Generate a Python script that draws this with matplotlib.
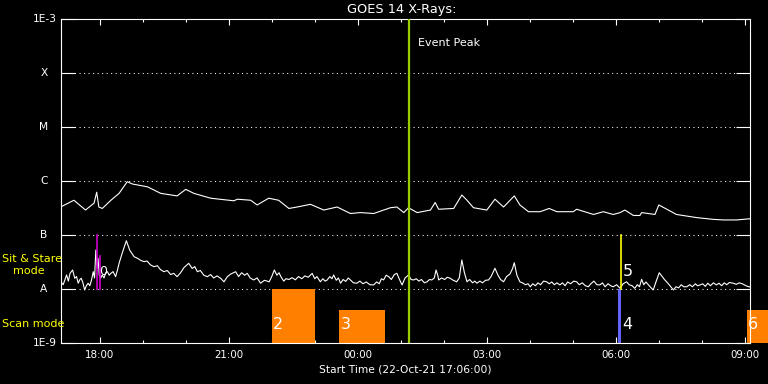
import matplotlib
matplotlib.use("Agg")
import matplotlib.pyplot as plt
import matplotlib.transforms as mtransforms
from matplotlib.ticker import FixedLocator, NullLocator, NullFormatter

# ---------------- data (hours since 22-Oct-21 00:00, flux W/m^2) -------------
long_t = [17.09, 17.40, 17.67, 17.87, 17.93, 17.98, 18.06, 18.26, 18.45, 18.64,
          18.76, 19.11, 19.42, 19.80, 20.00, 20.19, 20.58, 21.12, 21.20, 21.51,
          21.66, 21.93, 22.16, 22.40, 22.59, 22.90, 23.21, 23.52, 23.83, 24.06,
          24.37, 24.76, 24.91, 25.07, 25.18, 25.38, 25.69, 25.80, 25.88, 26.23,
          26.42, 26.54, 26.69, 27.00, 27.19, 27.39, 27.64, 27.77, 27.97, 28.24,
          28.45, 28.63, 29.01, 29.09, 29.48, 29.71, 29.94, 30.10, 30.21, 30.41,
          30.56, 30.60, 30.91, 31.00, 31.22, 31.41, 31.88, 32.26, 32.50, 32.81,
          33.12]
long_flux = [3.3e-7, 4.4e-7, 2.9e-7, 3.9e-7, 6.2e-7, 3.3e-7, 3.1e-7, 4.4e-7, 5.9e-7, 9.7e-7,
             8.8e-7, 7.8e-7, 5.9e-7, 5.3e-7, 7.0e-7, 5.9e-7, 4.8e-7, 4.3e-7, 4.6e-7, 4.4e-7,
             3.6e-7, 4.8e-7, 4.4e-7, 3.1e-7, 3.3e-7, 3.7e-7, 2.9e-7, 3.3e-7, 2.5e-7, 2.6e-7,
             2.5e-7, 3.2e-7, 3.3e-7, 2.6e-7, 3.2e-7, 2.6e-7, 2.9e-7, 4.0e-7, 3.0e-7, 3.1e-7,
             5.5e-7, 4.4e-7, 3.2e-7, 2.9e-7, 4.6e-7, 3.3e-7, 5.3e-7, 3.6e-7, 2.7e-7, 2.7e-7,
             3.1e-7, 2.7e-7, 2.7e-7, 3.0e-7, 2.4e-7, 2.7e-7, 2.4e-7, 2.6e-7, 2.9e-7, 2.3e-7,
             2.3e-7, 2.6e-7, 2.4e-7, 3.6e-7, 2.9e-7, 2.4e-7, 2.1e-7, 1.95e-7, 1.9e-7, 1.9e-7,
             2.0e-7]

short_t = [17.10, 17.15, 17.19, 17.23, 17.27, 17.31, 17.37, 17.42, 17.46, 17.50,
           17.54, 17.57, 17.61, 17.65, 17.69, 17.73, 17.77, 17.81, 17.85, 17.88,
           17.91, 17.94, 17.96, 17.99, 18.02, 18.06, 18.10, 18.14, 18.18, 18.22,
           18.26, 18.31, 18.37, 18.41, 18.45, 18.53, 18.62, 18.70, 18.80, 18.88,
           18.95, 19.03, 19.10, 19.18, 19.26, 19.34, 19.41, 19.49, 19.57, 19.65,
           19.72, 19.80, 19.88, 19.96, 20.07, 20.15, 20.21, 20.27, 20.34, 20.42,
           20.50, 20.58, 20.65, 20.73, 20.81, 20.89, 20.97, 21.05, 21.16, 21.23,
           21.30, 21.37, 21.43, 21.50, 21.58, 21.66, 21.74, 21.83, 21.94, 22.00,
           22.06, 22.12, 22.17, 22.22, 22.28, 22.33, 22.40, 22.47, 22.55, 22.62,
           22.70, 22.77, 22.85, 22.94, 23.00, 23.05, 23.13, 23.19, 23.24, 23.29,
           23.35, 23.40, 23.44, 23.50, 23.55, 23.60, 23.66, 23.72, 23.78, 23.83,
           23.90, 23.98, 24.05, 24.12, 24.20, 24.28, 24.37, 24.44, 24.50, 24.55,
           24.60, 24.66, 24.72, 24.78, 24.85, 24.91, 24.97, 25.03, 25.10, 25.18,
           25.24, 25.30, 25.36, 25.42, 25.48, 25.55, 25.61, 25.67, 25.72, 25.78,
           25.82, 25.86, 25.88, 25.95, 26.02, 26.08, 26.15, 26.22, 26.30, 26.36,
           26.42, 26.48, 26.54, 26.60, 26.67, 26.72, 26.77, 26.84, 26.90, 26.97,
           27.04, 27.10, 27.19, 27.26, 27.32, 27.39, 27.46, 27.54, 27.60, 27.64,
           27.70, 27.77, 27.83, 27.90, 27.96, 28.01, 28.07, 28.13, 28.19, 28.25,
           28.32, 28.39, 28.45, 28.51, 28.57, 28.63, 28.70, 28.76, 28.82, 28.88,
           28.95, 29.02, 29.09, 29.15, 29.22, 29.29, 29.36, 29.42, 29.49, 29.56,
           29.63, 29.69, 29.75, 29.82, 29.88, 29.94, 30.02, 30.10, 30.17, 30.25,
           30.31, 30.38, 30.44, 30.50, 30.55, 30.60, 30.65, 30.70, 30.76, 30.82,
           30.87, 30.94, 31.01, 31.08, 31.13, 31.18, 31.24, 31.30, 31.34, 31.40,
           31.46, 31.52, 31.58, 31.65, 31.72, 31.78, 31.85, 31.90, 31.96, 32.02,
           32.08, 32.14, 32.20, 32.27, 32.34, 32.40, 32.46, 32.52, 32.58, 32.64,
           32.73, 32.80, 32.87, 32.94, 33.00, 33.06, 33.12]
# values in units of 1e-8 W/m^2
short_flux_e8 = [1.36, 1.20, 1.47, 1.82, 1.40, 1.95, 2.25, 1.58, 1.70, 1.28,
                 1.50, 1.58, 1.30, 0.96, 1.15, 1.28, 1.15, 1.47, 2.09, 1.60,
                 5.27, 2.40, 3.71, 1.80, 1.58, 1.82, 1.60, 2.00, 2.09, 1.80,
                 1.95, 2.10, 1.69, 2.20, 2.99, 4.80, 7.83, 5.20, 3.96, 3.70,
                 3.40, 3.21, 3.30, 2.80, 2.59, 2.70, 2.30, 2.09, 2.20, 1.85,
                 1.95, 1.69, 2.00, 2.50, 2.99, 2.40, 2.60, 2.09, 2.20, 1.80,
                 1.69, 1.85, 1.60, 1.75, 1.58, 1.36, 1.70, 1.90, 2.09, 1.70,
                 2.00, 1.80, 1.95, 1.60, 1.47, 1.60, 1.28, 1.45, 1.36, 1.70,
                 2.25, 1.80, 2.00, 1.65, 1.40, 1.55, 1.50, 1.62, 1.48, 1.70,
                 1.55, 1.75, 1.65, 1.95, 1.55, 1.70, 1.36, 1.55, 1.40, 1.47,
                 1.70, 1.55, 1.82, 1.45, 1.60, 1.28, 1.50, 1.38, 1.60, 1.47,
                 1.30, 1.28, 1.40, 1.25, 1.35, 1.20, 1.19, 1.35, 1.25, 1.55,
                 1.47, 1.80, 1.69, 1.50, 1.85, 1.95, 1.50, 1.19, 1.60, 1.82,
                 1.50, 1.47, 1.55, 1.40, 1.50, 1.30, 1.36, 1.50, 1.47, 1.60,
                 2.25, 1.80, 1.47, 1.60, 1.50, 1.65, 1.58, 1.45, 1.36, 1.60,
                 3.44, 2.00, 1.36, 1.50, 1.30, 1.40, 1.28, 1.40, 1.30, 1.45,
                 1.47, 1.70, 2.42, 1.80, 1.50, 1.36, 1.70, 1.90, 2.40, 3.07,
                 1.80, 1.36, 1.30, 1.20, 1.25, 1.10, 1.25, 1.15, 1.30, 1.20,
                 1.40, 1.36, 1.25, 1.35, 1.20, 1.30, 1.19, 1.30, 1.15, 1.35,
                 1.25, 1.40, 1.36, 1.20, 1.30, 1.15, 1.10, 1.25, 1.40, 1.20,
                 1.19, 1.30, 1.10, 1.25, 1.15, 1.10, 1.20, 1.03, 1.25, 1.36,
                 1.20, 1.15, 1.03, 1.20, 1.10, 1.51, 1.20, 1.35, 1.19, 1.05,
                 0.96, 1.40, 2.00, 1.70, 1.50, 1.36, 1.20, 1.05, 0.96, 1.10,
                 1.05, 1.20, 1.10, 1.10, 1.20, 1.10, 1.25, 1.15, 1.19, 1.25,
                 1.12, 1.28, 1.15, 1.30, 1.19, 1.28, 1.15, 1.30, 1.20, 1.32,
                 1.28, 1.22, 1.30, 1.25, 1.18, 1.12, 1.09]
short_flux = [v * 1e-8 for v in short_flux_e8]

event_peak = 25.19

# scan-mode observations
scan_ids = ["2", "3", "6"]
scan_start = [22.00, 23.57, 33.04]
scan_end = [23.01, 24.64, 33.70]
scan_top = [1.0e-8, 4.1e-9, 4.1e-9]

# blue observation 4 (in scan band)
obs4_start, obs4_end, obs4_top = 30.04, 30.12, 1.0e-8

# sit & stare observations
ss_ids = ["0", "1", "5"]
ss_time = [17.93, 18.00, 30.11]
ss_top = [1.0e-7, 4.1e-8, 1.0e-7]
ss_colors = ["#cc00cc", "#cc00cc", "#ffff00"]

ytick_vals = [1e-9, 1e-8, 1e-7, 1e-6, 1e-5, 1e-4, 1e-3]
ytick_labels = ["1E-9", "A", "B", "C", "M", "X", "1E-3"]
xtick_vals = [18, 21, 24, 27, 30, 33]
xtick_labels = ["18:00", "21:00", "00:00", "03:00", "06:00", "09:00"]

# ---------------- figure ----------------
plt.rcParams['lines.scale_dashes'] = False
W, H = 768, 384
fig = plt.figure(figsize=(W / 100, H / 100), dpi=100, facecolor="black")
ax = fig.add_axes([61 / W, 1 - 343 / H, 689 / W, 324 / H], facecolor="black")
ax.set_yscale("log")
ax.set_xlim(17.1, 33.12)
ax.set_ylim(1e-9, 1e-3)

for s in ax.spines.values():
    s.set_color("white")
    s.set_linewidth(0.8)

# dotted class lines
for v in ytick_vals[1:-1]:
    ax.axhline(v, color="white", lw=0.75, linestyle=(0, (0.75, 2.5)), zorder=1)

# curves
ax.plot(long_t, long_flux, color="white", lw=0.8, zorder=3)
ax.plot(short_t, short_flux, color="white", lw=0.8, zorder=3)

# scan bars
for lab, s, e, t in zip(scan_ids, scan_start, scan_end, scan_top):
    ax.bar(s, t - 1e-9, bottom=1e-9, width=e - s, align="edge",
           color="#ff8000", clip_on=False, zorder=2)
    ax.text(s + 0.03, 2.2e-9, lab, color="white", fontsize=11.5,
            ha="left", va="center", zorder=4, clip_on=False)

ax.bar(obs4_start, obs4_top - 1e-9, bottom=1e-9, width=obs4_end - obs4_start,
       align="edge", color="#6464ff", zorder=2)
ax.text(obs4_end + 0.02, 2.2e-9, "4", color="white", fontsize=11.5,
        ha="left", va="center", zorder=4)

# sit & stare lines
for lab, t, top, c in zip(ss_ids, ss_time, ss_top, ss_colors):
    ax.plot([t, t], [1e-8, top], color=c, lw=1.2, zorder=4)
ax.text(ss_time[2] + 0.05, 2.15e-8, ss_ids[2], color="white", fontsize=11.5,
        ha="left", va="center", zorder=4)
ax.text(ss_time[0] + 0.06, 2.15e-8, ss_ids[0], color="white", fontsize=9,
        ha="left", va="center", zorder=4)

# event peak
ax.axvline(event_peak, color="#9acd00", lw=1.6, zorder=5)
ax.text(event_peak + 0.21, 10 ** (-9 + (343 - 43) / 54), "Event Peak",
        color="white", fontsize=8, ha="left", va="center")

# ticks
ax.yaxis.set_major_locator(FixedLocator(ytick_vals))
ax.yaxis.set_minor_locator(NullLocator())
ax.yaxis.set_major_formatter(NullFormatter())
ax.yaxis.set_minor_formatter(NullFormatter())
ax.tick_params(axis="y", which="major", direction="in", length=10, width=0.8,
               color="white", left=True, right=True)

ax.set_xticks(xtick_vals)
ax.set_xticklabels(xtick_labels)
ax.set_xticks(list(range(18, 34)), minor=True)
ax.tick_params(axis="x", which="major", direction="in", length=4.3, width=0.8,
               color="white", labelcolor="white", labelsize=7.4, top=True,
               bottom=True, pad=5)
ax.tick_params(axis="x", which="minor", direction="in", length=2.2, width=0.8,
               color="white", top=True, bottom=True)

trans = mtransforms.blended_transform_factory(fig.transFigure, ax.transData)
for v, lab in zip(ytick_vals, ytick_labels):
    if lab.startswith("1E"):
        ax.text(57 / W, v, lab, transform=trans, color="white", fontsize=7.7,
                ha="right", va="center")
    else:
        ax.text(44 / W, v, lab, transform=trans, color="white", fontsize=7.7,
                ha="center", va="center")

fig.text(2 / W, 1 - 259 / H, "Sit & Stare", color="#ffff00", fontsize=8.0,
         ha="left", va="center")
fig.text(13 / W, 1 - 271 / H, "mode", color="#ffff00", fontsize=8.0,
         ha="left", va="center")
fig.text(2 / W, 1 - 324 / H, "Scan mode", color="#ffff00", fontsize=8.0,
         ha="left", va="center")

fig.text(402 / W, 1 - 10 / H, "GOES 14 X-Rays:", color="white", fontsize=9.3,
         ha="center", va="center")
fig.text(405 / W, 1 - 370 / H, "Start Time (22-Oct-21 17:06:00)", color="white",
         fontsize=7.7, ha="center", va="center")

fig.savefig("out.png", dpi=100, facecolor="black")
